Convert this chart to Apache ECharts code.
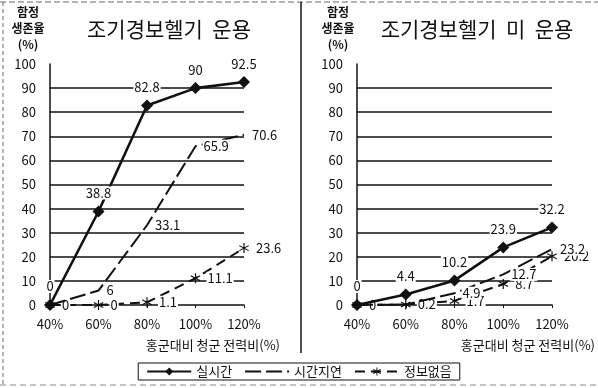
<!DOCTYPE html>
<html><head><meta charset="utf-8">
<script src="https://cdn.jsdelivr.net/npm/echarts@6/dist/echarts.min.js"></script>
<style>html,body{margin:0;padding:0;background:#fff}#c{width:598px;height:388px}</style>
</head><body><div id="c"></div>
<script>
const categories = ['40%', '60%', '80%', '100%', '120%'];
const seriesNames = ['실시간', '시간지연', '정보없음'];
const leftRealtime = [0, 38.8, 82.8, 90, 92.5];
const leftDelayed = [0, 6, 33.1, 65.9, 70.6];
const leftNoInfo = [0, 0, 1.1, 11.1, 23.6];
const rightRealtime = [0, 4.4, 10.2, 23.9, 32.2];
const rightDelayed = [0, 0.2, 4.9, 12.7, 23.2];
const rightNoInfo = [0, 0.2, 1.7, 8.7, 20.2];
const titles = ['조기경보헬기  운용', '조기경보헬기  미  운용'];
const yName = '함정\n생존율\n(%)';
const xName = '홍군대비 청군 전력비(%)';

const FONT = '"Noto Sans CJK KR", "Noto Sans", sans-serif';
const INK = '#111';
const STAR = 'path://M9,1 L11,1 L11,19 L9,19 Z M2.7,4.63 L18.3,13.63 L17.3,15.37 L1.7,6.37 Z M1.7,13.63 L17.3,4.63 L18.3,6.37 L2.7,15.37 Z';

function mkData(vals, hidden) {
  return vals.map((v, i) => hidden.indexOf(i) >= 0 ? { value: v, label: { show: false } } : v);
}
const lbl = (pos) => ({ show: true, position: pos, distance: 6, fontFamily: FONT, fontSize: 13, color: INK, backgroundColor: '#fff', padding: [0, 1], opacity: 1 });

function seriesFor(idx, rt, dl, ni, hideDl, hideNi) {
  return [
    { name: seriesNames[0], type: 'line', xAxisIndex: idx, yAxisIndex: idx, data: rt,
      symbol: 'diamond', symbolSize: 12, lineStyle: { color: INK, width: 2.6 }, itemStyle: { color: INK },
      label: lbl('top'), z: 5 },
    { name: seriesNames[1], type: 'line', xAxisIndex: idx, yAxisIndex: idx, data: mkData(dl, hideDl),
      symbol: 'circle', symbolSize: 2, showAllSymbol: true, lineStyle: { color: INK, width: 2, type: [16, 5] }, itemStyle: { color: INK, opacity: 0 },
      label: lbl('right'), z: 4 },
    { name: seriesNames[2], type: 'line', xAxisIndex: idx, yAxisIndex: idx, data: mkData(ni, hideNi),
      symbol: STAR, symbolSize: 10, lineStyle: { color: INK, width: 2, type: [10, 6] }, itemStyle: { color: INK },
      label: lbl('right'), z: 3 }
  ];
}

function xAxisFor(idx, gap) {
  return { type: 'category', gridIndex: idx, data: categories, boundaryGap: false,
    axisLine: { lineStyle: { color: INK, width: 1.5 } },
    axisTick: { show: true, length: 3, lineStyle: { color: INK } },
    axisLabel: { fontFamily: FONT, fontSize: 13, color: INK, margin: 13 },
    name: xName, nameLocation: 'end', nameGap: gap,
    nameTextStyle: { fontFamily: FONT, fontSize: 13, color: INK, align: 'right', verticalAlign: 'top', padding: [34, 0, 0, 0] } };
}
function yAxisFor(idx, off) {
  return { type: 'value', gridIndex: idx, min: 0, max: 100, interval: 10,
    axisLine: { show: true, lineStyle: { color: INK, width: 1.5 } },
    axisTick: { show: false },
    axisLabel: { fontFamily: FONT, fontSize: 13, color: INK, margin: 14 },
    splitLine: { show: true, showMinLine: false, showMaxLine: false, lineStyle: { color: INK, width: 1.5 } },
    name: yName, nameLocation: 'end', nameGap: 12,
    nameTextStyle: { fontFamily: FONT, fontSize: 12, fontWeight: 'bold', color: INK, align: 'center', verticalAlign: 'bottom', lineHeight: 16, padding: [0, off, 0, 0] } };
}

const chart = echarts.init(document.getElementById('c'), null, { renderer: 'canvas' });
chart.setOption({
  animation: false,
  backgroundColor: '#fff',
  title: [
    { text: titles[0], left: 164, top: 14, textAlign: 'center', textStyle: { fontFamily: FONT, fontSize: 21, fontWeight: 'normal', color: INK } },
    { text: titles[1], left: 472, top: 14, textAlign: 'center', textStyle: { fontFamily: FONT, fontSize: 21, fontWeight: 'normal', color: INK } }
  ],
  legend: {
    data: seriesNames, left: 'center', top: 363, itemWidth: 44, itemHeight: 10, itemGap: 12,
    borderColor: INK, borderWidth: 1, padding: [2, 8],
    textStyle: { fontFamily: FONT, fontSize: 13, color: INK }
  },
  grid: [
    { left: 50, right: 354, top: 64, bottom: 83 },
    { left: 357, right: 46, top: 64, bottom: 83 }
  ],
  xAxis: [xAxisFor(0, 36), xAxisFor(1, 43)],
  yAxis: [yAxisFor(0, 44), yAxisFor(1, 38)],
  graphic: [
    { type: 'line', shape: { x1: 0, y1: 2, x2: 598, y2: 2 }, style: { stroke: '#666', lineWidth: 1, lineDash: [6, 3] } },
    { type: 'line', shape: { x1: 3, y1: 2, x2: 3, y2: 386 }, style: { stroke: '#666', lineWidth: 1, lineDash: [4, 3] } },
    { type: 'line', shape: { x1: 301, y1: 2, x2: 301, y2: 353 }, style: { stroke: INK, lineWidth: 1.5 } },
    { type: 'line', shape: { x1: 0, y1: 385, x2: 598, y2: 385 }, style: { stroke: '#888', lineWidth: 1, lineDash: [6, 4] } }
  ],
  series: [].concat(
    seriesFor(0, leftRealtime, leftDelayed, leftNoInfo, [0], []),
    seriesFor(1, rightRealtime, rightDelayed, rightNoInfo, [0, 1], [])
  )
});
</script></body></html>
